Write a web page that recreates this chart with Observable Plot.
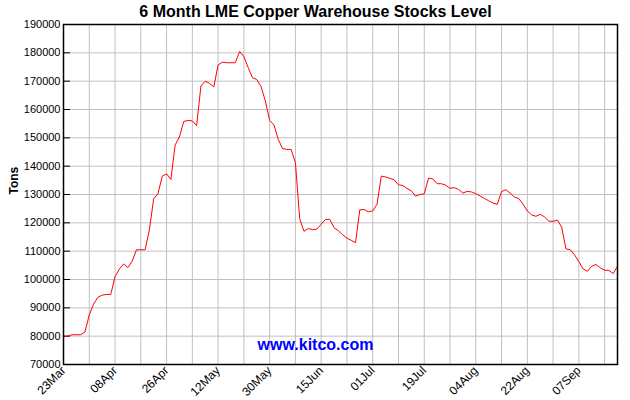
<!DOCTYPE html>
<html><head><meta charset="utf-8">
<script src="https://cdn.jsdelivr.net/npm/d3@7"></script>
<script src="https://cdn.jsdelivr.net/npm/@observablehq/plot@0.6"></script>
<style>body{margin:0;background:#fff;}</style>
</head><body><div id="chart"></div>
<script>
// LME copper warehouse stocks (tons), one value per trading day
const stocks = [
  79900, 80000, 80500, 80500, 80500, 81500, 87500, 91300, 93700, 94500,
  94700, 94700, 101000, 103700, 105500, 104200, 106500, 110500, 110500, 110500,
  117500, 128500, 130300, 136500, 137300, 135300, 147500, 150300, 155800, 156100,
  156000, 154300, 168300, 170000, 169200, 168000, 175700, 176700, 176500, 176500,
  176500, 180500, 178700, 174800, 171200, 170600, 168100, 163000, 156100, 154600,
  149500, 146200, 145900, 145900, 141200, 121500, 117000, 118000, 117600, 117800,
  119500, 121200, 121200, 118300, 117200, 115800, 114600, 113800, 113000, 124600,
  124700, 123900, 124200, 126500, 136500, 136200, 135700, 135200, 133400, 133200,
  132100, 131300, 129400, 130000, 130200, 135800, 135500, 133800, 133800, 133300,
  132200, 132400, 131800, 130500, 131100, 130900, 130300, 129500, 128600, 127800,
  127000, 126500, 131000, 131700, 130500, 129100, 128600, 126600, 124200, 122800,
  122300, 123000, 122100, 120600, 120500, 121000, 118500, 110800, 110500, 108700,
  106300, 103700, 102900, 104700, 105300, 104100, 103300, 103200, 102100, 104700
];
const tickLabels = ["23Mar","08Apr","26Apr","12May","30May","15Jun","01Jul","19Jul","04Aug","22Aug","07Sep"];
const labelIdx = [0, 12, 24, 36, 48, 60, 72, 84, 96, 108, 120];
const gridIdx = [0, 6, 12, 18, 24, 30, 36, 42, 48, 54, 60, 66, 72, 78, 84, 90, 96, 102, 108, 114, 120, 126];
const yTicks = [70000, 80000, 90000, 100000, 110000, 120000, 130000, 140000, 150000, 160000, 170000, 180000, 190000];
const title = "6 Month LME Copper Warehouse Stocks Level";
const yLabel = "Tons";
const watermark = "www.kitco.com";

const rows = stocks.map((v, i) => ({i, v}));

const chart = Plot.plot({
  width: 630, height: 400,
  marginLeft: 63, marginRight: 13, marginTop: 24, marginBottom: 36,
  style: {fontFamily: "'Liberation Sans', Arial, sans-serif", background: "#fff", color: "#000"},
  x: {domain: [0, 129]},
  y: {domain: [70000, 190000]},
  marks: [
    Plot.gridX(gridIdx, {stroke: "#c0c0c0", strokeOpacity: 1}),
    Plot.gridY(yTicks, {stroke: "#c0c0c0", strokeOpacity: 1}),
    Plot.tickY(yTicks, {y: d => d, stroke: "#000", insetRight: 547}),
    Plot.axisY(yTicks, {tickSize: 0, tickPadding: 3, tickFormat: d => String(d), fontSize: 11, label: null}),
    Plot.axisX(labelIdx, {tickSize: 0, tickPadding: 4, tickRotate: -45, tickFormat: d => tickLabels[labelIdx.indexOf(d)], fontSize: 12, label: null}),
    Plot.line(rows, {x: "i", y: "v", stroke: "#ff0000", strokeWidth: 1}),
    Plot.frame({stroke: "#000", strokeWidth: 1.5}),
    Plot.text([yLabel], {frameAnchor: "left", dx: -49, rotate: -90, fontWeight: "bold", fontSize: 12, lineAnchor: "middle"}),
    Plot.text([title], {frameAnchor: "top", dx: -25, dy: -13, fontSize: 16, fontWeight: "bold", lineAnchor: "middle"}),
    Plot.text([watermark], {frameAnchor: "bottom", dx: -25, dy: -20, fill: "#0000ff", fontSize: 16, fontWeight: "bold", lineAnchor: "middle"})
  ]
});
document.getElementById("chart").appendChild(chart);
</script>
</body></html>
